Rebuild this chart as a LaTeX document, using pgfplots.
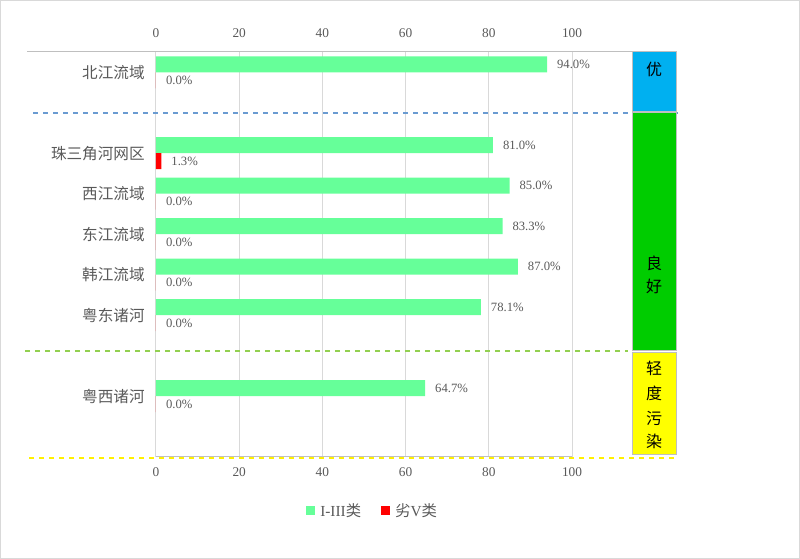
\documentclass[border=0pt]{standalone}
\usepackage{pgfplots}
\usepackage{pgfplotstable}
\pgfplotsset{compat=1.18}
\usepackage{fontspec}
\setmainfont{Liberation Serif}
\newfontfamily\cjk{Noto Sans CJK SC}
\definecolor{gbar}{HTML}{66FF99}
\definecolor{rbar}{HTML}{FF0000}
\definecolor{txt}{HTML}{595959}
\definecolor{gridc}{HTML}{D9D9D9}
\definecolor{linec}{HTML}{BFBFBF}
\definecolor{bluebox}{HTML}{00B0F0}
\definecolor{greenbox}{HTML}{00CC00}
\definecolor{yellowbox}{HTML}{FFFF00}
\definecolor{dblue}{HTML}{6A9BD1}
\definecolor{dgreen}{HTML}{92D050}
\definecolor{dyellow}{HTML}{FFF000}

\pgfplotstableread{
y g r
0 94.0 0.0
2 81.0 1.3
3 85.0 0.0
4 83.3 0.0
5 87.0 0.0
6 78.1 0.0
8 64.7 0.0
}\datatable

\begin{document}
\begin{tikzpicture}
\useasboundingbox (0,0) rectangle (600pt,-419.25pt);
\draw[gridc, line width=0.75pt] (0.375pt,-0.375pt) rectangle (599.625pt,-418.875pt);

\begin{axis}[
  at={(117pt,-39pt)}, anchor=north west,
  scale only axis, width=312pt, height=303.75pt,
  xmin=0, xmax=100, ymin=-0.5, ymax=9.5, y dir=reverse,
  xbar, bar width=12pt,
  axis line style={draw=none},
  major tick length=0,
  xtick={0,20,...,100},
  xmajorgrids, grid style={gridc, line width=0.75pt},
  ytick={0,2,3,4,5,6,8},
  yticklabels={北江流域,珠三角河网区,西江流域,东江流域,韩江流域,粤东诸河,粤西诸河},
  yticklabel style={font=\cjk\fontsize{11.7}{12}\selectfont, text=txt, xshift=-5pt},
  xticklabel style={font=\fontsize{10}{12}\selectfont, text=txt, yshift=-4.5pt},
  /pgf/number format/assume math mode=true,
  clip=false,
  nodes near coords={\pgfmathprintnumber[fixed,fixed zerofill,precision=1]{\pgfplotspointmeta}\%},
  every node near coord/.append style={font=\fontsize{9.5}{11}\selectfont, text=txt, xshift=4pt},
]
\addplot[fill=gbar, draw=none, bar shift=6pt] table[x=g,y=y]{\datatable};
\addplot[fill=rbar, draw=none, bar shift=-6pt] table[x=r,y=y]{\datatable};
\end{axis}

\begin{axis}[
  at={(117pt,-39pt)}, anchor=north west,
  scale only axis, width=312pt, height=303.75pt,
  xmin=0, xmax=100, ymin=-0.5, ymax=9.5, y dir=reverse,
  axis line style={draw=none},
  major tick length=0,
  xtick={0,20,...,100}, ytick=\empty,
  xticklabel pos=upper,
  xticklabel style={font=\fontsize{10}{12}\selectfont, text=txt, yshift=7.5pt},
  /pgf/number format/assume math mode=true,
]
\end{axis}

\begin{scope}[x=0.75pt,y=-0.75pt]
 \draw[linec, line width=0.75pt] (27,52) -- (632,52);
 \draw[linec, line width=0.75pt] (156,457) -- (572,457);
 \draw[dblue, line width=0.9pt, dash pattern=on 4pt off 3.5pt] (33,113) -- (680,113);
 \draw[dgreen, line width=0.9pt, dash pattern=on 4pt off 3.5pt] (25,351) -- (628,351);
 \draw[dyellow, line width=0.9pt, dash pattern=on 4pt off 3.5pt] (29,458) -- (676,458);
 \filldraw[fill=bluebox, draw=linec, line width=0.75pt] (632,52) rectangle (676,112);
 \filldraw[fill=greenbox, draw=linec, line width=0.75pt] (632,113) rectangle (676,351);
 \filldraw[fill=yellowbox, draw=linec, line width=0.75pt] (632,353) rectangle (676,455);
 \node[font=\cjk\fontsize{12}{12}\selectfont] at (654,69) {优};
 \node[font=\cjk\fontsize{12}{12}\selectfont] at (654,263) {良};
 \node[font=\cjk\fontsize{12}{12}\selectfont] at (654,286) {好};
 \node[font=\cjk\fontsize{12}{12}\selectfont] at (654,368) {轻};
 \node[font=\cjk\fontsize{12}{12}\selectfont] at (654,393) {度};
 \node[font=\cjk\fontsize{12}{12}\selectfont] at (654,418) {污};
 \node[font=\cjk\fontsize{12}{12}\selectfont] at (654,441) {染};
 % legend
 \fill[gbar] (306,506) rectangle (315,515);
 \node[anchor=west, inner sep=0pt, text=txt, font=\fontsize{11.5}{12}\selectfont] at (320,511) {I-III{\cjk 类}};
 \fill[rbar] (381,506) rectangle (390,515);
 \node[anchor=west, inner sep=0pt, text=txt, font=\fontsize{11.5}{12}\selectfont] at (395,511) {{\cjk 劣}V{\cjk 类}};
\end{scope}
\end{tikzpicture}
\end{document}
